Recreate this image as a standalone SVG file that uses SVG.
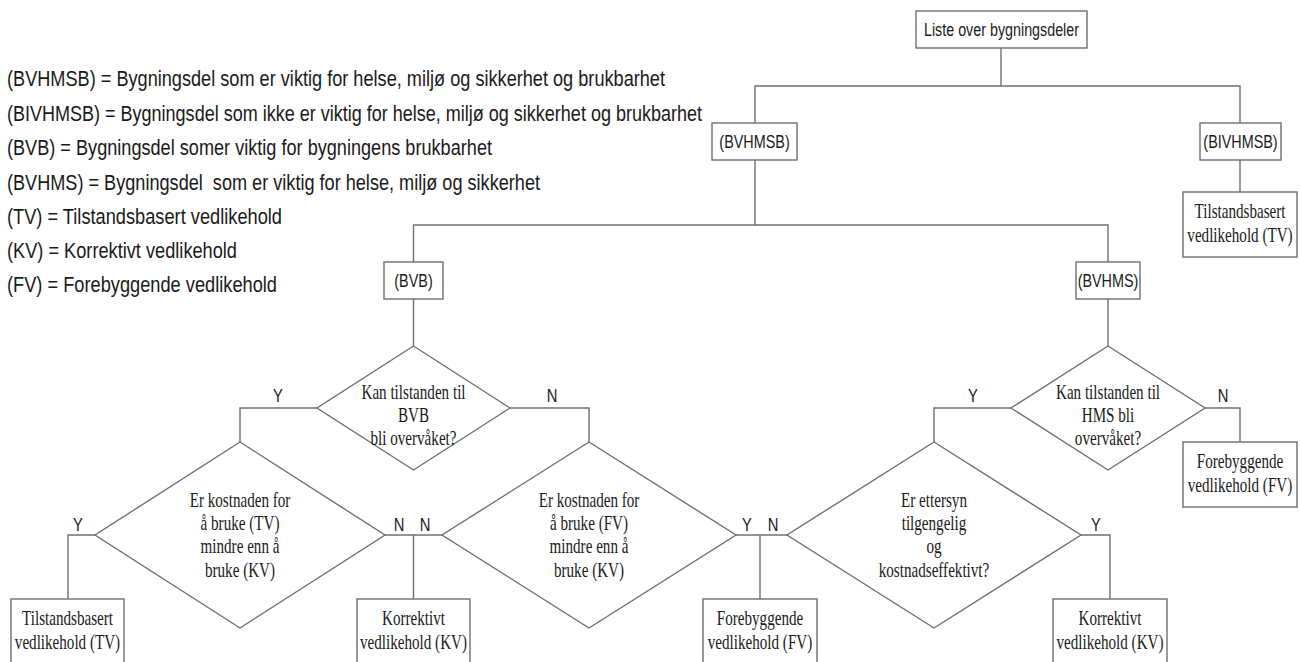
<svg xmlns="http://www.w3.org/2000/svg" width="1300" height="662" viewBox="0 0 1300 662">
  <style>
    .box { fill: #ffffff; stroke: #707070; stroke-width: 1.4; }
    .link { fill: none; stroke: #707070; stroke-width: 1.4; }
    .sans { font-family: "Liberation Sans", Arial, sans-serif; fill: #1a1a1a; }
    .serif { font-family: "Liberation Serif", "Times New Roman", serif; font-size: 21px; fill: #1a1a1a; text-anchor: middle; }
    .lbl { font-size: 18px; text-anchor: middle; }
    .legend { font-size: 21.5px; }
    .yn { font-size: 18px; text-anchor: middle; }
  </style>

  <!-- legend -->
  <g id="legend" class="sans legend">
    <text x="7" y="86" textLength="658" lengthAdjust="spacingAndGlyphs">(BVHMSB) = Bygningsdel som er viktig for helse, miljø og sikkerhet og brukbarhet</text>
    <text x="7" y="121" textLength="695" lengthAdjust="spacingAndGlyphs">(BIVHMSB) = Bygningsdel som ikke er viktig for helse, miljø og sikkerhet og brukbarhet</text>
    <text x="7" y="155" textLength="485" lengthAdjust="spacingAndGlyphs">(BVB) = Bygningsdel somer viktig for bygningens brukbarhet</text>
    <text x="7" y="190" textLength="533" lengthAdjust="spacingAndGlyphs" xml:space="preserve">(BVHMS) = Bygningsdel  som er viktig for helse, miljø og sikkerhet</text>
    <text x="7" y="224" textLength="275" lengthAdjust="spacingAndGlyphs">(TV) = Tilstandsbasert vedlikehold</text>
    <text x="7" y="258" textLength="230" lengthAdjust="spacingAndGlyphs">(KV) = Korrektivt vedlikehold</text>
    <text x="7" y="292" textLength="270" lengthAdjust="spacingAndGlyphs">(FV) = Forebyggende vedlikehold</text>
  </g>

  <!-- connectors -->
  <g id="connectors" class="link">
    <polyline points="1001,48 1001,86"/>
    <polyline points="755,123 755,86 1240,86 1240,123"/>
    <polyline points="1240,160 1240,192"/>
    <polyline points="755,160 755,225"/>
    <polyline points="413.5,262 413.5,225 1108,225 1108,262"/>
    <polyline points="413.5,299 413.5,346"/>
    <polyline points="1108,299 1108,346"/>
    <!-- BVB question -->
    <polyline points="317,408 240,408 240,442"/>
    <polyline points="510,408 589,408 589,442"/>
    <!-- HMS question -->
    <polyline points="1011,408 934,408 934,442"/>
    <polyline points="1205,408 1240,408 1240,442"/>
    <!-- cost questions -->
    <polyline points="95,535 68,535 68,599"/>
    <polyline points="385,535 442,535"/>
    <polyline points="413.5,535 413.5,599"/>
    <polyline points="736,535 787,535"/>
    <polyline points="760,535 760,599"/>
    <polyline points="1081,535 1110,535 1110,599"/>
  </g>

  <!-- decision labels -->
  <g id="yn-labels" class="sans yn">
    <text transform="matrix(0.82 0 0 1 278 402)">Y</text>
    <text transform="matrix(0.82 0 0 1 552 402)">N</text>
    <text transform="matrix(0.82 0 0 1 973 402)">Y</text>
    <text transform="matrix(0.82 0 0 1 1223 402)">N</text>
    <text transform="matrix(0.82 0 0 1 78 531)">Y</text>
    <text transform="matrix(0.82 0 0 1 399 531)">N</text>
    <text transform="matrix(0.82 0 0 1 425 531)">N</text>
    <text transform="matrix(0.82 0 0 1 747 531)">Y</text>
    <text transform="matrix(0.82 0 0 1 773 531)">N</text>
    <text transform="matrix(0.82 0 0 1 1096 531)">Y</text>
  </g>

  <g id="n-liste">
    <rect class="box" x="916" y="11" width="171" height="37"/>
    <text class="sans lbl" transform="matrix(0.795 0 0 1 1001.5 36)">Liste over bygningsdeler</text>
  </g>

  <g id="n-bvhmsb">
    <rect class="box" x="712" y="123" width="85" height="37"/>
    <text class="sans lbl" transform="matrix(0.8 0 0 1 754.5 148)">(BVHMSB)</text>
  </g>

  <g id="n-bivhmsb">
    <rect class="box" x="1200" y="123" width="81" height="37"/>
    <text class="sans lbl" transform="matrix(0.8 0 0 1 1240.5 148)">(BIVHMSB)</text>
  </g>

  <g id="n-tv-top">
    <rect class="box" x="1183" y="192" width="114" height="65"/>
    <text class="serif" transform="matrix(0.72 0 0 1 1240 0)"><tspan x="0" y="218">Tilstandsbasert</tspan><tspan x="0" y="242">vedlikehold (TV)</tspan></text>
  </g>

  <g id="n-bvb">
    <rect class="box" x="384" y="262" width="59" height="37"/>
    <text class="sans lbl" transform="matrix(0.8 0 0 1 413.5 287)">(BVB)</text>
  </g>

  <g id="n-bvhms">
    <rect class="box" x="1076" y="262" width="64" height="37"/>
    <text class="sans lbl" transform="matrix(0.8 0 0 1 1108 287)">(BVHMS)</text>
  </g>

  <g id="q-bvb">
    <polygon class="box" points="413.5,346 510,408 413.5,470 317,408"/>
    <text class="serif" transform="matrix(0.72 0 0 1 413.5 0)"><tspan x="0" y="399">Kan tilstanden til</tspan><tspan x="0" y="422">BVB</tspan><tspan x="0" y="445">bli overvåket?</tspan></text>
  </g>

  <g id="q-hms">
    <polygon class="box" points="1108,346 1205,408 1108,470 1011,408"/>
    <text class="serif" transform="matrix(0.72 0 0 1 1108 0)"><tspan x="0" y="399">Kan tilstanden til</tspan><tspan x="0" y="422">HMS bli</tspan><tspan x="0" y="445">overvåket?</tspan></text>
  </g>

  <g id="n-fv-right">
    <rect class="box" x="1183" y="442" width="114" height="65"/>
    <text class="serif" transform="matrix(0.72 0 0 1 1240 0)"><tspan x="0" y="468">Forebyggende</tspan><tspan x="0" y="492">vedlikehold (FV)</tspan></text>
  </g>

  <g id="q-cost-tv">
    <polygon class="box" points="240,442 385,535 240,628 95,535"/>
    <text class="serif" transform="matrix(0.72 0 0 1 240 0)"><tspan x="0" y="507">Er kostnaden for</tspan><tspan x="0" y="530">å bruke (TV)</tspan><tspan x="0" y="553">mindre enn å</tspan><tspan x="0" y="577">bruke (KV)</tspan></text>
  </g>

  <g id="q-cost-fv">
    <polygon class="box" points="589,442 736,535 589,628 442,535"/>
    <text class="serif" transform="matrix(0.72 0 0 1 589 0)"><tspan x="0" y="507">Er kostnaden for</tspan><tspan x="0" y="530">å bruke (FV)</tspan><tspan x="0" y="553">mindre enn å</tspan><tspan x="0" y="577">bruke (KV)</tspan></text>
  </g>

  <g id="q-ettersyn">
    <polygon class="box" points="934,442 1081,535 934,628 787,535"/>
    <text class="serif" transform="matrix(0.72 0 0 1 934 0)"><tspan x="0" y="507">Er ettersyn</tspan><tspan x="0" y="530">tilgengelig</tspan><tspan x="0" y="553">og</tspan><tspan x="0" y="577">kostnadseffektivt?</tspan></text>
  </g>

  <g id="n-tv-bottom">
    <rect class="box" x="11" y="599" width="113" height="80"/>
    <text class="serif" transform="matrix(0.72 0 0 1 67.5 0)"><tspan x="0" y="625">Tilstandsbasert</tspan><tspan x="0" y="649">vedlikehold (TV)</tspan></text>
  </g>

  <g id="n-kv-left">
    <rect class="box" x="357" y="599" width="113" height="80"/>
    <text class="serif" transform="matrix(0.72 0 0 1 413.5 0)"><tspan x="0" y="625">Korrektivt</tspan><tspan x="0" y="649">vedlikehold (KV)</tspan></text>
  </g>

  <g id="n-fv-bottom">
    <rect class="box" x="703" y="599" width="114" height="80"/>
    <text class="serif" transform="matrix(0.72 0 0 1 760 0)"><tspan x="0" y="625">Forebyggende</tspan><tspan x="0" y="649">vedlikehold (FV)</tspan></text>
  </g>

  <g id="n-kv-right">
    <rect class="box" x="1053" y="599" width="114" height="80"/>
    <text class="serif" transform="matrix(0.72 0 0 1 1110 0)"><tspan x="0" y="625">Korrektivt</tspan><tspan x="0" y="649">vedlikehold (KV)</tspan></text>
  </g>
</svg>
